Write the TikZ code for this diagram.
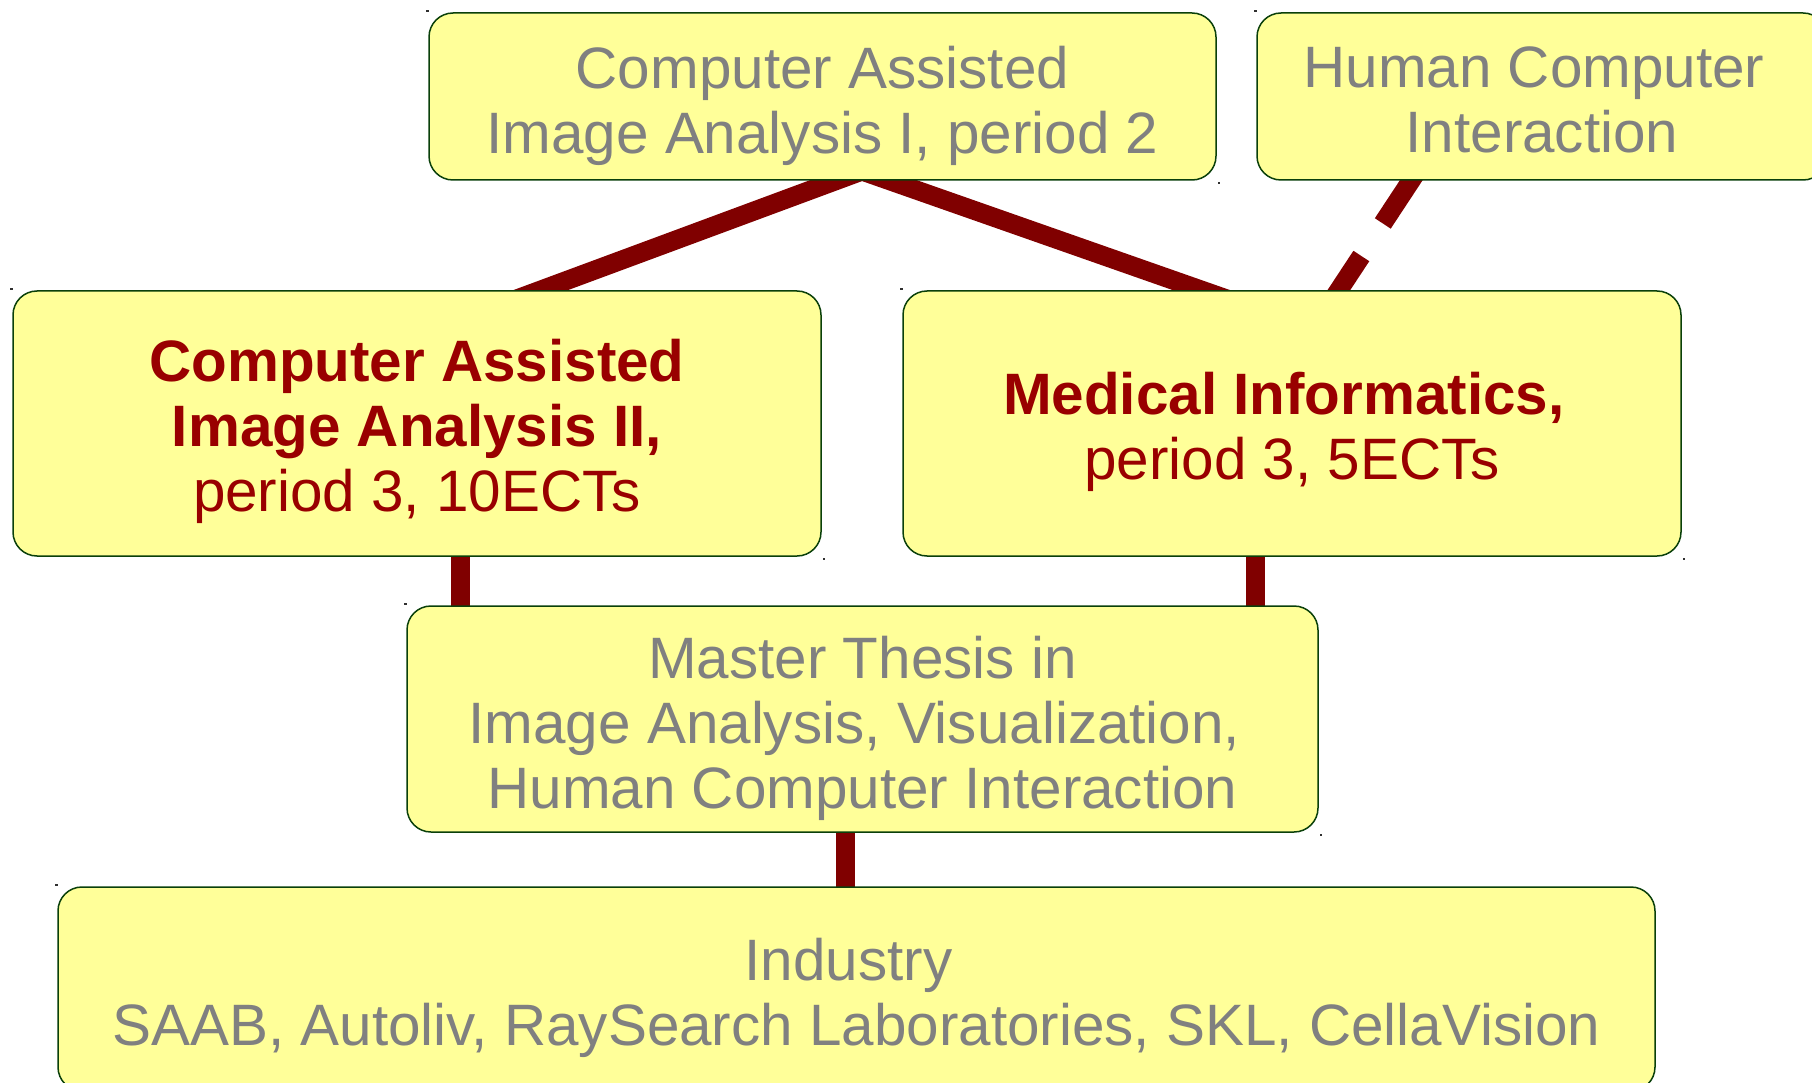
\documentclass[tikz,border=0pt]{standalone}
\usepackage{fontspec}
\setmainfont{Liberation Sans}
\usetikzlibrary{calc}
\definecolor{boxfill}{HTML}{FFFF99}
\definecolor{boxline}{HTML}{0A400A}
\definecolor{link}{HTML}{800000}
\definecolor{hot}{HTML}{990000}
\definecolor{dim}{HTML}{808080}
\definecolor{dotc}{HTML}{303030}
\pgfdeclarelayer{bg}
\pgfsetlayers{bg,main}
\begin{document}
\begin{tikzpicture}[x=1pt,y=-1pt,
  box/.style={draw=boxline, line width=1.5pt, fill=boxfill, rounded corners=24pt, inner sep=0pt},
  txt/.style={anchor=north, inner sep=0pt, align=center, font=\fontsize{58.4}{65}\selectfont},
  conn/.style={draw=link, line width=19pt},
  cdot/.style={fill=dotc}
]
\useasboundingbox (0,0) rectangle (1812,1083);
\clip (0,0) rectangle (1812,1083);

% boxes
\node[box, minimum width=787pt, minimum height=167pt] (top) at (822.5,96.5) {};
\node[box, minimum width=570pt, minimum height=167pt] (hci) at (1542,96.5) {};
\node[box, minimum width=808pt, minimum height=265pt] (caia) at (417,423.5) {};
\node[box, minimum width=778pt, minimum height=265pt] (med) at (1292,423.5) {};
\node[box, minimum width=911pt, minimum height=226pt] (master) at (862.5,719) {};
\node[box, minimum width=1597pt, minimum height=204pt] (industry) at (856.5,989) {};

% texts
\node[txt, text=dim] (ttop) at (822.5,46.2) {Computer Assisted\\Image Analysis I, period 2};
\node[txt, text=dim] (thci) at (1542,46.2) {Human Computer\rule{0.278em}{0pt}\\Interaction};
\node[txt, text=hot] (tcaia) at (417,339.2) {\textbf{Computer Assisted}\\\textbf{Image Analysis II,}\\period 3, 10ECTs};
\node[txt, text=hot] (tmed) at (1292,372.2) {\textbf{Medical Informatics,}\rule{0.278em}{0pt}\\period 3, 5ECTs};
\node[txt, text=dim] (tmaster) at (862.5,635.5) {Master Thesis in\\Image Analysis, Visualization,\rule{0.278em}{0pt}\\Human Computer Interaction};
\node[txt, text=dim] (tind) at (856.5,938.2) {Industry\rule{0.278em}{0pt}\\SAAB, Autoliv, RaySearch Laboratories, SKL, CellaVision};

% connector end points (hidden under the boxes)
\coordinate (apex) at (862,171);
\coordinate (caiaIn) at (514,300);
\coordinate (medIn) at (1229.6,300);
\coordinate (hciOut) at (1418,170);
\coordinate (medIn2) at (1333,299);

\begin{pgfonlayer}{bg}
  \draw[conn] (apex) -- (caiaIn);
  \draw[conn] (apex) -- (medIn);
  \draw[conn, dash pattern=on 64pt off 39pt on 400pt] (hciOut) -- (medIn2);
  \draw[conn] (caia.center -| 460.5,0) -- (master.center -| 460.5,0);
  \draw[conn] (med.center -| 1255.7,0) -- (master.center -| 1255.7,0);
  \draw[conn] (master.center -| 845,0) -- (industry.center -| 845,0);
\end{pgfonlayer}

% small corner marks
\foreach \n in {top,hci,caia,med,master,industry}{
  \fill[cdot] ($(\n.north west)+(-2,-2)$) rectangle +(2.5,2);
  \fill[cdot] ($(\n.south east)+(1,1)$) rectangle +(2.5,2);
}
\end{tikzpicture}
\end{document}
